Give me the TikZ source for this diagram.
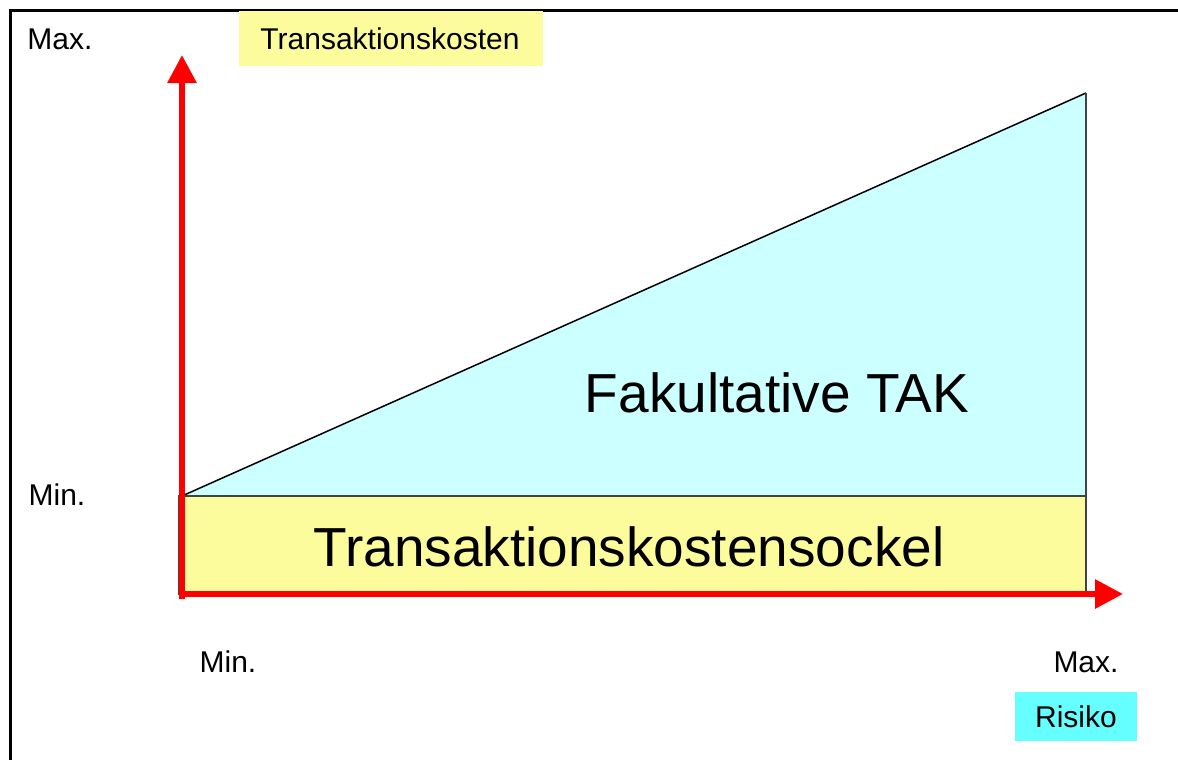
\documentclass[tikz,border=0pt]{standalone}
\usepackage{fontspec}
\setmainfont{Liberation Sans}
\usetikzlibrary{arrows.meta}

\definecolor{sockelgelb}{HTML}{FCFC9C}
\definecolor{takcyan}{HTML}{CCFFFF}
\definecolor{risikocyan}{HTML}{66FFFF}
\definecolor{randgrau}{HTML}{3C4646}

\tikzset{
  achse/.style={red, line width=3pt, -{Triangle[length=14pt,width=14pt]}},
  klein/.style={font=\fontsize{15}{18}\selectfont, inner sep=0pt},
  gross/.style={font=\fontsize{27.5}{33}\selectfont, inner sep=0pt}
}

\begin{document}
\begin{tikzpicture}[x=0.5pt,y=-0.5pt]
\useasboundingbox (0,0) rectangle (1178,760);

% frame
\draw [line width=1.5pt] (10,760) -- (10,10) -- (1178,10);

% corner points
\coordinate (ursprung) at (182,594);
\coordinate (sockellinks) at (182,496);
\coordinate (sockelrechts) at (1086,496);
\coordinate (spitze) at (1086,93);

% fakultative TAK
\fill [takcyan] (sockellinks) -- (spitze) -- (sockelrechts) -- cycle;
\draw [line width=0.75pt] (sockellinks) -- (spitze);
\draw [randgrau,line width=0.75pt] (spitze) -- (sockelrechts);
\node [gross] (fak) at (777,393) {Fakultative TAK};

% sockel
\filldraw [fill=sockelgelb,draw=randgrau,line width=0.75pt] (179,496) rectangle (1086,594);
\node [gross] (sockel) at (629,547) {Transaktionskostensockel};

% axes
\coordinate (yunten) at (182,599);
\coordinate (yoben) at (182,55);
\coordinate (xlinks) at (179,594);
\coordinate (xrechts) at (1123,594);
\draw [achse] (yunten) -- (yoben);
\draw [achse] (xlinks) -- (xrechts);

% labels
\fill [sockelgelb] (239,11) rectangle (543,66);
\node [klein] (tk) at (390,39) {Transaktionskosten};
\node [klein] (ymax) at (60,39) {Max.};
\node [klein] (ymin) at (57,495) {Min.};
\node [klein] (xmin) at (228,662) {Min.};
\node [klein] (xmax) at (1086,662) {Max.};
\fill [risikocyan] (1015,692) rectangle (1137,741);
\node [klein] (risiko) at (1076,717) {Risiko};
\end{tikzpicture}
\end{document}
